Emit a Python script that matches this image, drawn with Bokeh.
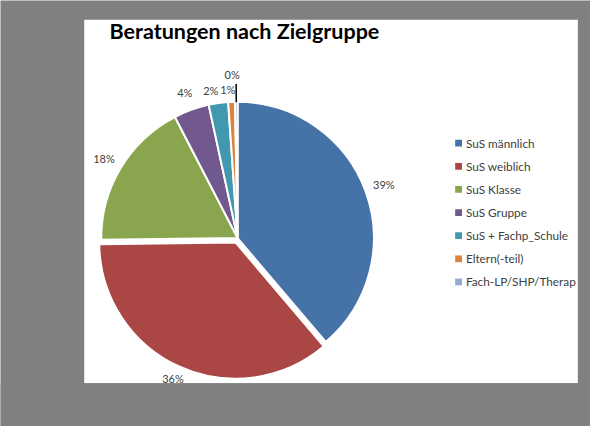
import math
from bokeh.plotting import figure
from bokeh.models import Range1d, ColumnDataSource
from bokeh.core.properties import value
from bokeh.embed import file_html
from bokeh.resources import INLINE

# ---- data ----
categories = ["SuS männlich", "SuS weiblich", "SuS Klasse", "SuS Gruppe",
              "SuS + Fachp_Schule", "Eltern(-teil)", "Fach-LP/SHP/Therap"]
shares = [38.8, 36.0, 17.6, 4.2, 2.3, 0.8, 0.3]
colors = ["#4572A7", "#AA4643", "#89A54E", "#71588F", "#4198AF", "#DB843D", "#93A9CF"]
title_text = "Beratungen nach Zielgruppe"

# ---- layout (reference-frame pixels, 606 x 442) ----
RW, RH = 606, 442
W, H = 590, 426
def px(x):
    return x
def py(y):
    return RH - y

p = figure(width=W, height=H, output_backend="svg", toolbar_location=None,
           x_range=Range1d(0, RW), y_range=Range1d(0, RH), min_border=0)
p.axis.visible = False
p.grid.visible = False
p.outline_line_color = None
p.background_fill_color = "#808080"
p.border_fill_color = "#808080"

# white chart panel
p.quad(left=[px(86)], right=[px(593)], top=[py(20)], bottom=[py(397)],
       fill_color="white", line_color=None)

cx, cy, R = px(243.5), py(246.5), 140
total = sum(shares)
starts, ends, xs, ys = [], [], [], []
lab_x, lab_y, lab_t = [], [], []
theta = 0.0
explode = {1: 5}
for i, s in enumerate(shares):
    t0 = theta
    t1 = theta + 360.0 * s / total
    theta = t1
    mid = math.radians((t0 + t1) / 2)
    ex = explode.get(i, 0)
    xs.append(cx + ex * math.sin(mid))
    ys.append(cy + ex * math.cos(mid))
    starts.append(math.radians(90 - t1))
    ends.append(math.radians(90 - t0))
    lr = 170 if i == len(shares) - 1 else 160
    lab_x.append(cx + lr * math.sin(mid))
    lab_y.append(cy + lr * math.cos(mid))
    lab_t.append(f"{round(s)}%")

# nudges for crowded small labels
lab_x[4] -= 5; lab_y[4] -= 5
lab_x[5] -= 3; lab_y[5] -= 6
lab_x[6] -= 4

src = ColumnDataSource(dict(x=xs, y=ys, start=starts, end=ends, color=colors))
p.wedge(x="x", y="y", radius=R, start_angle="start", end_angle="end",
        fill_color="color", line_color="white", line_width=2, source=src)

# leader line for smallest slice
mid_last = math.radians(360 - 180.0 * shares[-1] / total)
p.segment(x0=[cx + (R + 1) * math.sin(mid_last)], y0=[cy + (R + 1) * math.cos(mid_last)],
          x1=[cx + 160 * math.sin(mid_last)], y1=[cy + 160 * math.cos(mid_last)],
          line_color="black", line_width=1.5)

p.text(x=lab_x, y=lab_y, text=lab_t, text_align="center", text_baseline="middle",
       text_font=value("Lato"), text_font_size="11px", text_color="#404040")

# gray frame below the panel clips the lowest label, as in the original
p.quad(left=[0], right=[RW], top=[py(397)], bottom=[0],
       fill_color="#808080", line_color=None)

# title
p.text(x=[px(112)], y=[py(32)], text=[title_text], text_align="left",
       text_baseline="middle", text_font=value("Lato"), text_font_size="21.5px",
       text_font_style="bold", text_color="black")

# legend
leg_y = [py(148 + 24 * i) for i in range(len(categories))]
p.rect(x=[px(470.5)] * len(categories), y=leg_y, width=7, height=7,
       fill_color=colors, line_color=None)
p.text(x=[px(478)] * len(categories), y=leg_y, text=categories, text_align="left",
       text_baseline="middle", text_font=value("Lato"), text_font_size="11.8px",
       text_color="#404040")

html = file_html(p, INLINE)
html = html.replace("<body>", '<body style="background:#808080">', 1)
open("out.html", "w").write(html)
